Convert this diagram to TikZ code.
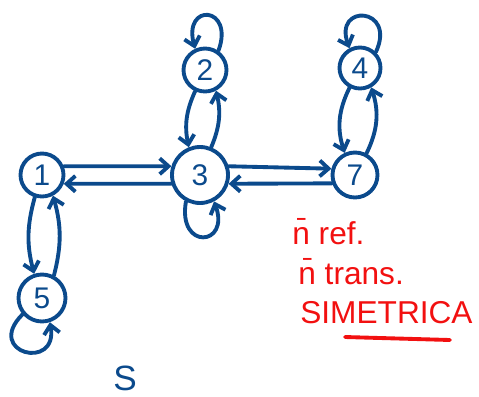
\documentclass[tikz,border=0pt]{standalone}
\usepackage{fontspec}
\setsansfont{Liberation Sans}
\usetikzlibrary{arrows.meta}
\definecolor{inkblue}{HTML}{0B4A8C}
\definecolor{inkred}{HTML}{F21010}

\tikzset{
    state/.style={circle, draw=inkblue, line width=2.2pt, text=inkblue,
        inner sep=0pt, font=\sffamily\fontsize{17}{17}\selectfont},
    link/.style={->, draw=inkblue, line width=2.2pt, line cap=round},
    note/.style={text=inkred, anchor=west, inner sep=0pt,
        font=\sffamily\fontsize{18}{18}\selectfont}
}

\begin{document}
\begin{tikzpicture}[x=0.02cm,y=0.02cm,>={Straight Barb[length=5pt,width=9pt]}]
    \useasboundingbox (0,0) rectangle (479,-396);

    % states
    \node[state, minimum size=0.86cm] (n1) at (42,-175) {1};
    \node[state, minimum size=1.12cm] (n3) at (200,-175) {3};
    \node[state, minimum size=0.90cm] (n7) at (355,-175) {7};
    \node[state, minimum size=0.86cm] (n2) at (205,-70) {2};
    \node[state, minimum size=0.82cm] (n4) at (360,-68) {4};
    \node[state, minimum size=0.94cm] (n5) at (42,-298) {5};

    % horizontal pairs
    \draw[link] (n1.22) -- (n3.163);
    \draw[link] (n3.197) -- (n1.-22);
    \draw[link] (n3.17) -- (n7.165);
    \draw[link] (n7.200) -- (n3.-17);

    % vertical pairs
    \draw[link] (n2.-115) to[bend right=18] (n3.112);
    \draw[link] (n3.68) to[bend right=18] (n2.-62);
    \draw[link] (n4.-118) to[bend right=22] (n7.115);
    \draw[link] (n7.62) to[bend right=22] (n4.-60);
    \draw[link] (n1.-108) to[bend right=15] (n5.108);
    \draw[link] (n5.62) to[bend right=15] (n1.-62);

    % loops
    \draw[link] (n2.55) .. controls +(70:48) and +(105:48) .. (n2.115);
    \draw[link] (n4.45) .. controls +(65:50) and +(110:48) .. (n4.118);
    \draw[link] (n3.-118) .. controls +(-100:50) and +(-70:48) .. (n3.-62);
    \draw[link] (n5.-140) .. controls +(-135:55) and +(-80:50) .. (n5.-72);

    \node[text=inkblue, inner sep=0pt, font=\sffamily\fontsize{20}{20}\selectfont] (rel) at (125,-378) {S};

    % properties
    \node[note] (ref) at (292,-232) {\=n ref.};
    \node[note] (tra) at (298,-272) {\=n trans.};
    \node[note] (sim) at (300,-313) {SIMETRICA};
    \draw[inkred, line width=2.2pt, line cap=round] (345,-337) -- (450,-340);
\end{tikzpicture}
\end{document}
